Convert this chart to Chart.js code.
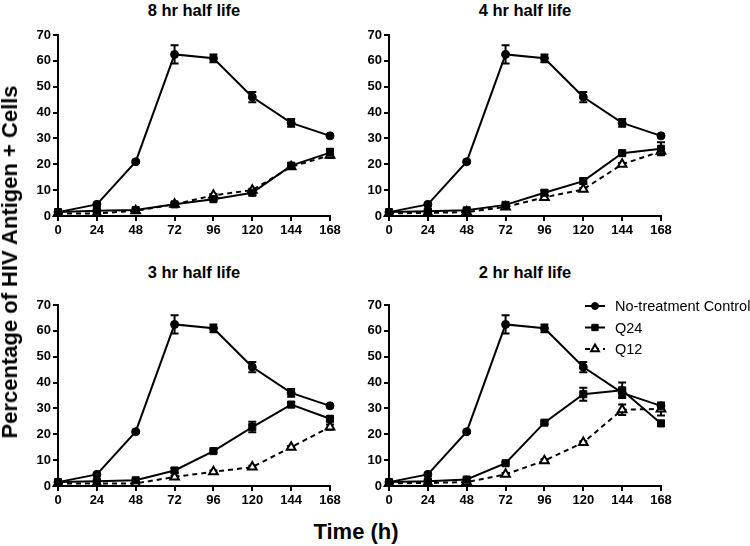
<!DOCTYPE html>
<html>
<head>
<meta charset="utf-8">
<script src="https://cdn.jsdelivr.net/npm/chart.js@4"></script>
<style>
    body { margin: 0; background: #fff; }
    #wrap { position: relative; width: 750px; height: 546px; overflow: hidden; font-family: "Liberation Sans", Arial, sans-serif; }
    canvas { position: absolute; }
    .ptitle { position: absolute; width: 272px; text-align: center; font-weight: bold; font-size: 16.5px; line-height: 18px; }
    #ytitle { position: absolute; left: 10px; top: 262px; transform: translate(-50%, -50%) rotate(-90deg); white-space: nowrap; font-weight: bold; font-size: 22px; }
    #xtitle { position: absolute; left: 256px; top: 519px; width: 200px; text-align: center; font-weight: bold; font-size: 22px; }
</style>
</head>
<body>
<div id="wrap">
    <div class="ptitle" style="left:58px; top:1px;">8 hr half life</div>
    <div class="ptitle" style="left:389px; top:1px;">4 hr half life</div>
    <div class="ptitle" style="left:58px; top:263px;">3 hr half life</div>
    <div class="ptitle" style="left:389px; top:263px;">2 hr half life</div>
    <canvas id="c8" width="370" height="220" style="left:0px; top:25px;"></canvas>
    <canvas id="c4" width="370" height="220" style="left:331px; top:25px;"></canvas>
    <canvas id="c3" width="370" height="220" style="left:0px; top:295px;"></canvas>
    <canvas id="c2" width="419" height="220" style="left:331px; top:295px;"></canvas>
    <div id="ytitle">Percentage of HIV Antigen + Cells</div>
    <div id="xtitle">Time (h)</div>
</div>
<script>
// Time points (hours)
const hours = [0, 24, 48, 72, 96, 120, 144, 168];

// No-treatment control is the same in every panel
const control = [1.5, 4.5, 21, 62.5, 61, 46, 36, 31];
const controlErr = [0.5, 0.5, 0.5, 3.5, 1.5, 2, 1.5, 0.5];

// 8 hr half life
const q24_8hr = [1.5, 2, 2.3, 4.5, 6.5, 9, 19.5, 24.5];
const q24_8hrErr = [0.5, 0.5, 0.5, 0.5, 0.5, 1, 1, 1.5];
const q12_8hr = [1, 1, 2, 4.5, 8, 10, 19, 23.5];
const q12_8hrErr = [0.5, 0.5, 0.5, 0.5, 0.5, 0.5, 0.5, 1];

// 4 hr half life
const q24_4hr = [1.5, 1.8, 2.2, 4.3, 9, 13.5, 24.3, 26];
const q24_4hrErr = [0.5, 0.5, 0.5, 0.5, 1, 1, 0.5, 2.5];
const q12_4hr = [1, 1.2, 1.5, 3.5, 7.2, 10.3, 20, 25];
const q12_4hrErr = [0.5, 0.5, 0.5, 0.5, 0.5, 0.5, 0.5, 1];

// 3 hr half life
const q24_3hr = [1.5, 1.8, 2.2, 6, 13.5, 22.8, 31.5, 26];
const q24_3hrErr = [0.5, 0.5, 0.5, 1, 0.5, 2, 1, 1];
const q12_3hr = [1, 1, 1, 3.5, 5.5, 7.3, 15, 22.8];
const q12_3hrErr = [0.5, 0.5, 0.5, 0.5, 0.5, 0.5, 0.5, 1];

// 2 hr half life
const q24_2hr = [1.5, 1.8, 2.5, 8.8, 24.5, 35.5, 37, 24.2];
const q24_2hrErr = [0.5, 0.5, 0.5, 0.5, 0.5, 2.5, 3, 1];
const q12_2hr = [1, 1.2, 1.5, 4.5, 9.8, 16.8, 29.5, 29.8];
const q12_2hrErr = [0.5, 0.5, 0.5, 0.5, 0.5, 0.5, 2, 2.5];

const seriesNames = ['No-treatment Control', 'Q24', 'Q12'];
const yTicks = [0, 10, 20, 30, 40, 50, 60, 70];

const FONT = '"Liberation Sans", Arial, sans-serif';

function toPoints(values) {
    return hours.map((h, i) => ({ x: h, y: values[i] }));
}

// Draw error bars from each dataset's errors array
const errorBars = {
    id: 'errorBars',
    beforeDatasetsDraw(chart) {
        const ctx = chart.ctx;
        const yScale = chart.scales.y;
        ctx.save();
        ctx.strokeStyle = '#000';
        ctx.lineWidth = 2;
        chart.data.datasets.forEach((ds, di) => {
            const meta = chart.getDatasetMeta(di);
            meta.data.forEach((pt, i) => {
                const v = ds.data[i].y;
                const e = ds.errors[i];
                const top = yScale.getPixelForValue(v + e);
                const bot = yScale.getPixelForValue(v - e);
                ctx.beginPath();
                ctx.moveTo(pt.x, top);
                ctx.lineTo(pt.x, bot);
                ctx.moveTo(pt.x - 4, top);
                ctx.lineTo(pt.x + 4, top);
                ctx.moveTo(pt.x - 4, bot);
                ctx.lineTo(pt.x + 4, bot);
                ctx.stroke();
            });
        });
        ctx.restore();
    }
};

// Legend drawn to the right of the last panel
const sideLegend = {
    id: 'sideLegend',
    afterDraw(chart, args, opts) {
        if (!opts.show) return;
        const ctx = chart.ctx;
        ctx.save();
        chart.data.datasets.forEach((ds, i) => {
            const y = opts.y + i * 21.5;
            ctx.strokeStyle = '#000';
            ctx.lineWidth = 2;
            ctx.setLineDash(ds.borderDash || []);
            ctx.beginPath();
            ctx.moveTo(opts.x, y);
            ctx.lineTo(opts.x + 20, y);
            ctx.stroke();
            ctx.setLineDash([]);
            ctx.fillStyle = ds.pointBackgroundColor;
            ctx.strokeStyle = '#000';
            ctx.lineWidth = ds.pointBorderWidth;
            Chart.helpers.drawPoint(ctx, {
                pointStyle: ds.pointStyle,
                rotation: 0,
                radius: ds.pointRadius - 0.5,
                borderWidth: ds.pointBorderWidth
            }, opts.x + 10, y);
            ctx.fillStyle = '#000';
            ctx.font = '14.5px ' + FONT;
            ctx.textBaseline = 'middle';
            ctx.fillText(ds.label, opts.x + 30, y + 1);
        });
        ctx.restore();
    }
};

function makeDatasets(q24, q24Err, q12, q12Err) {
    return [
        {
            label: seriesNames[0],
            data: toPoints(control),
            errors: controlErr,
            borderColor: '#000',
            borderWidth: 2,
            pointStyle: 'circle',
            pointRadius: 4,
            pointBorderWidth: 1,
            pointBackgroundColor: '#000',
            clip: false
        },
        {
            label: seriesNames[1],
            data: toPoints(q24),
            errors: q24Err,
            borderColor: '#000',
            borderWidth: 2,
            pointStyle: 'rect',
            pointRadius: 5,
            pointBorderWidth: 1,
            pointBackgroundColor: '#000',
            clip: false
        },
        {
            label: seriesNames[2],
            data: toPoints(q12),
            errors: q12Err,
            borderColor: '#000',
            borderWidth: 2,
            borderDash: [5, 4],
            pointStyle: 'triangle',
            pointRadius: 5,
            pointBorderWidth: 2,
            pointBackgroundColor: '#fff',
            clip: false
        }
    ];
}

function makeChart(id, datasets, padRight, legendOpts) {
    const ctx = document.getElementById(id).getContext('2d');
    return new Chart(ctx, {
        type: 'line',
        data: { datasets: datasets },
        plugins: [errorBars, sideLegend],
        options: {
            responsive: false,
            animation: false,
            devicePixelRatio: 1,
            layout: { padding: { left: 18, right: padRight, top: 10, bottom: 4 } },
            plugins: {
                legend: { display: false },
                tooltip: { enabled: false },
                sideLegend: legendOpts || { show: false }
            },
            scales: {
                x: {
                    type: 'linear',
                    min: 0,
                    max: 168,
                    afterFit(scale) { scale.height = 25; },
                    afterBuildTicks(scale) { scale.ticks = hours.map(v => ({ value: v })); },
                    border: { color: '#000', width: 2 },
                    grid: { drawOnChartArea: false, color: '#000', lineWidth: 2, tickLength: 5 },
                    ticks: { color: '#000', padding: 2, maxRotation: 0, font: { family: FONT, size: 13, weight: 'bold' } }
                },
                y: {
                    min: 0,
                    max: 70,
                    afterFit(scale) { scale.width = 40; },
                    afterBuildTicks(scale) { scale.ticks = yTicks.map(v => ({ value: v })); },
                    border: { color: '#000', width: 2 },
                    grid: { drawOnChartArea: false, color: '#000', lineWidth: 2, tickLength: 5 },
                    ticks: { color: '#000', padding: 2, font: { family: FONT, size: 13, weight: 'bold' } }
                }
            }
        }
    });
}

makeChart('c8', makeDatasets(q24_8hr, q24_8hrErr, q12_8hr, q12_8hrErr), 40);
makeChart('c4', makeDatasets(q24_4hr, q24_4hrErr, q12_4hr, q12_4hrErr), 40);
makeChart('c3', makeDatasets(q24_3hr, q24_3hrErr, q12_3hr, q12_3hrErr), 40);
makeChart('c2', makeDatasets(q24_2hr, q24_2hrErr, q12_2hr, q12_2hrErr), 89,
    { show: true, x: 254, y: 11 });
</script>
</body>
</html>
